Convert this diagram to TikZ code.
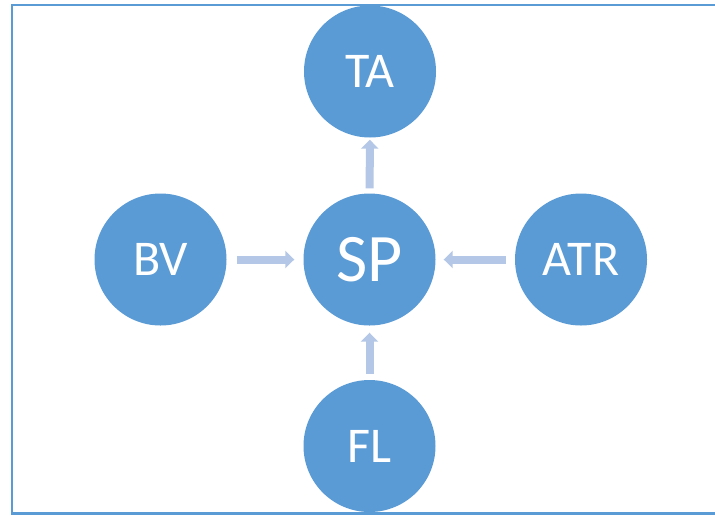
\documentclass[tikz,border=0pt]{standalone}
\usepackage{fontspec}
\setmainfont{Carlito}
\usetikzlibrary{arrows.meta}
\definecolor{circblue}{HTML}{5B9BD5}
\definecolor{arrblue}{HTML}{B4C7E7}
\begin{document}
\begin{tikzpicture}[x=1pt,y=-1pt,
  bubble/.style={circle,fill=circblue,draw=none,minimum size=132pt,inner sep=0pt,text=white,font=\fontsize{50}{50}\selectfont},
  flowarrow/.style={draw=arrblue,line width=8pt,-{Triangle[width=17pt,length=9pt]},shorten <=10pt,shorten >=9pt}]
\useasboundingbox (0,0) rectangle (715,515);
\clip (0,0) rectangle (715,515);
\draw[circblue,line width=2.5pt] (12,5) rectangle (730,513.5);
\node[bubble,font=\fontsize{68}{68}\selectfont] (sp) at (369.5,259.5) {SP};
\node[bubble] (ta) at (370,71.5) {TA};
\node[bubble] (bv) at (160.5,259.5) {BV};
\node[bubble] (atr) at (581,259.5) {ATR};
\node[bubble] (fl) at (369.5,446) {FL};
\draw[flowarrow] (bv) -- (sp);
\draw[flowarrow,shorten <=9pt,shorten >=8pt] (atr) -- (sp);
\draw[flowarrow,shorten <=5pt,shorten >=2pt] (sp) -- (ta);
\draw[flowarrow,shorten <=6pt,shorten >=7pt] (fl) -- (sp);
\end{tikzpicture}
\end{document}
